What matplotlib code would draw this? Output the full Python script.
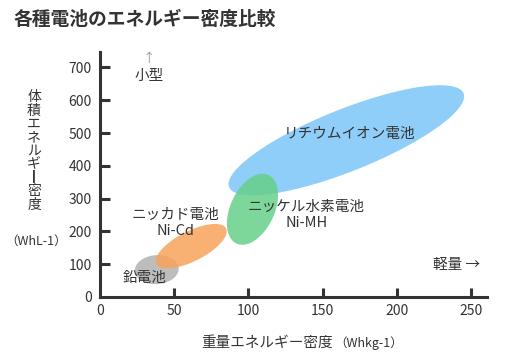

# エネルギー密度比較のチャート
import matplotlib.pyplot as plt
import numpy as np

plt.rcParams['font.family'] = ['Noto Sans CJK JP', 'DejaVu Sans']

# 電池の種類と範囲（長軸の両端、Wh/kg と Wh/L）
names = ['リチウムイオン電池', 'ニッケル水素電池\nNi-MH', 'ニッカド電池\nNi-Cd', '鉛電池']
grav_lo = [87, 92, 38, 23.5]
vol_lo = [335, 163, 101, 79]
grav_hi = [245, 113.5, 85, 53]
vol_hi = [621, 372, 209, 88]
label_x = [168, 139, 51, 30]
label_y = [497, 250, 225, 58]

xticks = [0, 50, 100, 150, 200, 250]
yticks = [0, 100, 200, 300, 400, 500, 600, 700]

# 楕円の太さ(px)と色
minor_px = [62, 44, 30, 29]
colors = ['#7ac6f9', '#66cf88', '#f8a45b', '#b2b2b2']
order = [0, 1, 3, 2]
dark = '#333333'

fig = plt.figure(figsize=(5.13, 3.6), dpi=100)
ax = fig.add_axes([0.1949, 0.175, 0.7544, 0.6814])
ax.set_xlim(0, 260.8)
ax.set_ylim(0, 748)

for s in ['top', 'right']:
    ax.spines[s].set_visible(False)
for s in ['left', 'bottom']:
    ax.spines[s].set_linewidth(2.2)
    ax.spines[s].set_color(dark)
ax.set_xticks(xticks)
ax.set_yticks(yticks)
ax.tick_params(axis='x', direction='in', length=6.5, width=2.2, color=dark,
               labelsize=10, labelcolor=dark, pad=5)
ax.tick_params(axis='y', direction='in', length=7.5, width=2.2, color=dark,
               labelsize=10, labelcolor=dark, pad=6)
ax.get_xticklines()[0].set_visible(False)
ax.get_yticklines()[0].set_visible(False)

# 楕円を表示座標で作ってデータ座標に戻す
t = np.linspace(0, 2 * np.pi, 200)
inv = ax.transData.inverted()
for i in order:
    p1 = ax.transData.transform((grav_lo[i], vol_lo[i]))
    p2 = ax.transData.transform((grav_hi[i], vol_hi[i]))
    c = (p1 + p2) / 2
    d = p2 - p1
    a = np.hypot(*d) / 2
    u = d / np.hypot(*d)
    v = np.array([-u[1], u[0]])
    b = minor_px[i] / 2
    pts = c + np.outer(a * np.cos(t), u) + np.outer(b * np.sin(t), v)
    pts = inv.transform(pts)
    ax.fill(pts[:, 0], pts[:, 1], color=colors[i], alpha=0.85, lw=0, zorder=1)

for i in range(len(names)):
    ax.text(label_x[i], label_y[i], names[i], ha='center', va='center',
            fontsize=10.5, color=dark, linespacing=1.15, zorder=3)

ax.text(33, 728, '↑', ha='center', va='center', fontsize=9, color='#999999',
        clip_on=False)
ax.text(33, 675, '小型', ha='center', va='center', fontsize=10.5, color=dark)
ax.text(240, 97, '軽量 →', ha='center', va='center', fontsize=10.5, color=dark)

# タイトルと軸ラベル
fig.text(14 / 513, 1 - 19 / 360, '各種電池のエネルギー密度比較', ha='left',
         va='center', fontsize=13.5, fontweight='bold', color=dark)
fig.text(267 / 513, 1 - 343 / 360, '重量エネルギー密度', ha='center',
         va='center', fontsize=10.5, color=dark)
fig.text(369 / 513, 1 - 343 / 360, '（Whkg-1）', ha='center', va='center',
         fontsize=9, color=dark)
ylab = ['体', '積', 'エ', 'ネ', 'ル', 'ギ', '丨', '密', '度']
for k, ch in enumerate(ylab):
    fig.text(34 / 513, 1 - (97 + k * 13.5) / 360, ch, ha='center',
             va='center', fontsize=10, color=dark,
             fontweight='bold' if ch == '丨' else 'normal')
fig.text(36 / 513, 1 - 241 / 360, '（WhL-1）', ha='center', va='center',
         fontsize=9, color=dark)

fig.savefig('out.png', dpi=100)
